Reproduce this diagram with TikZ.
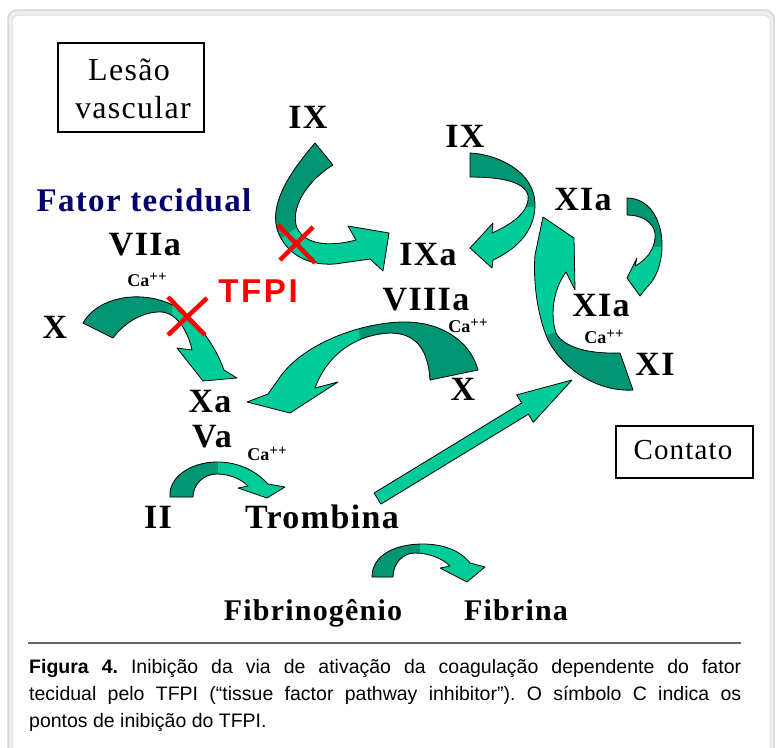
\documentclass[tikz,border=0pt]{standalone}
\usepackage{fontspec}
\setmainfont{Liberation Serif}
\newfontfamily\labfont[LetterSpace=4]{Liberation Serif}
\newfontfamily\tfpifont[LetterSpace=8]{Liberation Sans}
\newfontfamily\capfont{Liberation Sans}
\definecolor{arrowdark}{RGB}{0,150,115}
\definecolor{arrowlight}{RGB}{0,204,153}
\definecolor{navyt}{RGB}{0,0,110}
\definecolor{tfpired}{RGB}{255,0,0}
\definecolor{frameout}{RGB}{214,214,214}
\definecolor{framefill}{RGB}{240,240,240}
\definecolor{framein}{RGB}{222,222,222}
\newcommand\tealarrow[2]{%
  \fill[arrowlight] #1;
  \begin{scope}\clip #1; \fill[arrowdark] #2; \end{scope}
  \draw[arrowedge] #1;}
\newcommand\cappp{{\fontsize{18}{18}\selectfont\bfseries Ca}\raisebox{5pt}{\fontsize{15}{15}\selectfont\bfseries ++}}
\tikzset{
  lab/.style={inner sep=0pt, anchor=base, font=\labfont\bfseries\fontsize{34}{38}\selectfont},
  labsmall/.style={lab, font=\labfont\bfseries\fontsize{30}{34}\selectfont},
  boxtext/.style={inner sep=0pt, anchor=base, font=\labfont\fontsize{32}{36}\selectfont},
  catext/.style={inner sep=0pt, anchor=base},
  framebox/.style={draw=black, line width=1.3pt},
  arrowedge/.style={draw=black, line width=0.8pt, line join=round},
  redx/.style={draw=tfpired, line width=4.5pt},
  rulegray/.style={draw=black!60, line width=1.2pt}
}
\begin{document}
\begin{tikzpicture}[x=1pt,y=-1pt]
\useasboundingbox (0,0) rectangle (776,747);
\fill[white] (0,0) rectangle (776,747);
% frame
\draw[draw=frameout, fill=framefill, line width=1.5pt, rounded corners=9pt] (8,10) rectangle (774,770);
\draw[draw=framein, fill=white, line width=1pt, rounded corners=6pt] (12,15) rectangle (770,770);

% boxes
\draw[framebox] (58,43) rectangle (204,132);
\draw[framebox] (616,426) rectangle (753,478);

% arrow A: IX -> IXa
\tealarrow{(315,143) .. controls (290,172) and (268,205) .. (278,232) .. controls (286,252) and (305,266) .. (335,264) -- (370,259) -- (383,271) -- (389,233) -- (348,226) -- (356,240) .. controls (330,247) and (305,245) .. (297,228) .. controls (290,210) and (305,182) .. (333,165) -- cycle}
 {(250,120) -- (400,120) -- (400,205) -- (300,225) -- (262,252) -- (250,252) -- cycle}
% arrow B: X -> Xa
\tealarrow{(83,323) .. controls (98,296) and (145,288) .. (178,308) .. controls (198,322) and (215,345) .. (224,370) -- (237,378) -- (203,381) -- (177,348) -- (192,350) .. controls (188,332) and (178,314) .. (162,312) .. controls (143,311) and (124,323) .. (113,338) -- cycle}
 {(60,270) -- (172,270) -- (172,340) -- (60,360) -- cycle}
% arrow C: X (VIIIa) -> Xa
\tealarrow{(478,370) .. controls (470,340) and (440,322) .. (405,322) .. controls (360,322) and (300,345) .. (278,380) -- (268,394) -- (247,402) -- (290,413) -- (338,382) -- (315,388) .. controls (325,360) and (350,335) .. (390,333) .. controls (412,333) and (428,345) .. (430,380) -- cycle}
 {(356,300) -- (500,300) -- (500,420) -- (368,420) -- cycle}
% arrow D: II -> Trombina
\tealarrow{(170,497) .. controls (168,478) and (190,462) .. (217,462) .. controls (238,462) and (255,470) .. (268,484) -- (285,487) -- (267,498) -- (238,488) -- (248,486) .. controls (240,478) and (228,474) .. (217,474) .. controls (203,474) and (193,485) .. (193,497) -- cycle}
 {(150,440) -- (218,440) -- (218,510) -- (150,510) -- cycle}
% arrow E: Fibrinogenio -> Fibrina
\tealarrow{(372,577) .. controls (372,555) and (395,544) .. (423,544) .. controls (442,544) and (460,550) .. (470,563) -- (485,567) -- (467,582) -- (440,568) -- (450,566) .. controls (442,558) and (428,553) .. (415,553) .. controls (403,553) and (393,563) .. (393,577) -- cycle}
 {(350,530) -- (420,530) -- (420,590) -- (350,590) -- cycle}
% arrow F: Trombina -> XI (straight)
\fill[arrowlight] (374.1,493.0) -- (521.6,403.0) -- (516.7,394.9) -- (572,380) -- (533.3,422.3) -- (528.4,414.2) -- (380.9,504.1) -- cycle;
\draw[arrowedge] (374.1,493.0) -- (521.6,403.0) -- (516.7,394.9) -- (572,380) -- (533.3,422.3) -- (528.4,414.2) -- (380.9,504.1) -- cycle;
% arrow G: IX -> IXa (right)
\tealarrow{(470,153) .. controls (495,154) and (535,170) .. (535,205) .. controls (535,232) and (515,250) .. (493,260) -- (492,268) -- (470,248) -- (493,223) -- (492,233) .. controls (512,224) and (530,212) .. (528,195) .. controls (525,183) and (505,177) .. (470,177) -- cycle}
 {(460,140) -- (560,140) -- (560,207) -- (460,207) -- cycle}
% arrow H: XIa -> XIa (right small)
\tealarrow{(627,198) .. controls (648,198) and (662,218) .. (662,245) .. controls (662,265) and (655,280) .. (647,287) -- (640,296) -- (627,278) -- (637,258) -- (635,266) .. controls (650,258) and (656,245) .. (655,233) .. controls (653,222) and (642,215) .. (627,215) -- cycle}
 {(615,190) -- (680,190) -- (680,247) -- (615,247) -- cycle}
% arrow I: XI -> XIa (big)
\tealarrow{(633,390) .. controls (600,392) and (565,372) .. (548,340) .. controls (537,315) and (533,280) .. (535,255) -- (543,217) -- (574,238) -- (575,290) -- (566,272) .. controls (553,290) and (550,315) .. (556,333) .. controls (564,348) and (590,354) .. (620,353) -- cycle}
 {(520,342) -- (580,326) -- (650,326) -- (650,400) -- (520,400) -- cycle}

% TFPI crosses
\draw[redx] (278,225) -- (315,263);
\draw[redx] (313,227) -- (280,260);
\draw[redx] (168,297) -- (205,335);
\draw[redx] (207,298) -- (168,335);

% labels
\node[boxtext] (lesao1) at (129,80) {Lesão};
\node[boxtext] (lesao2) at (133,118) {vascular};
\node[boxtext, font=\labfont\fontsize{29}{32}\selectfont] (contato) at (683,459) {Contato};
\node[lab] (ixtop) at (308,128) {IX};
\node[lab, text=navyt, font=\labfont\bfseries\fontsize{33}{36}\selectfont] (fator) at (144,211) {Fator tecidual};
\node[lab] (viia) at (145,255) {VIIa};
\node[catext] (ca1) at (147,286) {\cappp};
\node[inner sep=0pt, anchor=base, text=tfpired, font=\tfpifont\bfseries\fontsize{33}{36}\selectfont] (tfpi) at (258,302) {TFPI};
\node[lab] (xleft) at (55,338) {X};
\node[lab] (xa) at (210,412) {Xa};
\node[lab] (va) at (212,447) {Va};
\node[catext] (ca2) at (267,460) {\cappp};
\node[lab] (ii) at (158,528) {II};
\node[lab] (trombina) at (322,528) {Trombina};
\node[labsmall] (fibrinog) at (313,620) {Fibrinogênio};
\node[labsmall] (fibrina) at (516,620) {Fibrina};
\node[lab] (ixright) at (465,147) {IX};
\node[lab] (xiatop) at (583,210) {XIa};
\node[lab] (ixa) at (428,265) {IXa};
\node[lab] (viiia) at (426,310) {VIIIa};
\node[catext] (ca3) at (468,332) {\cappp};
\node[lab] (xialow) at (601,316) {XIa};
\node[catext] (ca4) at (604,343) {\cappp};
\node[lab] (xi) at (655,375) {XI};
\node[lab] (xmid) at (463,400) {X};

% caption
\draw[rulegray] (28,643) -- (741,643);
\node[anchor=base west, inner sep=0pt, font=\capfont\fontsize{19.5}{27}\selectfont] (cap1) at (29,673)
  {\frenchspacing\makebox[712pt][s]{\textbf{Figura 4.} Inibição da via de ativação da coagulação dependente do fator}};
\node[anchor=base west, inner sep=0pt, font=\capfont\fontsize{19.5}{27}\selectfont] (cap2) at (29,700)
  {\frenchspacing\makebox[712pt][s]{tecidual pelo TFPI (“tissue factor pathway inhibitor”). O símbolo C indica os}};
\node[anchor=base west, inner sep=0pt, font=\capfont\fontsize{19.5}{27}\selectfont] (cap3) at (29,727)
  {\frenchspacing pontos de inibição do TFPI.};
\end{tikzpicture}
\end{document}
